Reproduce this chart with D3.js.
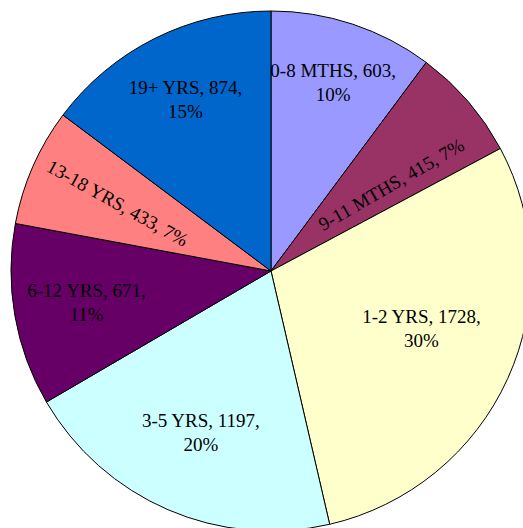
<!DOCTYPE html>
<html>
<head>
<meta charset="utf-8">
<script src="https://cdn.jsdelivr.net/npm/d3@7"></script>
<style>
  body { margin: 0; background: #fff; }
  svg { display: block; }
</style>
</head>
<body>
<div id="chart"></div>
<script>
// chart data
var categories = ["0-8 MTHS", "9-11 MTHS", "1-2 YRS", "3-5 YRS", "6-12 YRS", "13-18 YRS", "19+ YRS"];
var values     = [603, 415, 1728, 1197, 671, 433, 874];
var pctLabels  = ["10%", "7%", "30%", "20%", "11%", "7%", "15%"];   // as printed on the chart
var colors     = ["#9999ff", "#993366", "#ffffcc", "#ccffff", "#660066", "#ff8080", "#0066cc"];

// label layout (fraction of radius, rotation, angle nudge)
var labelRadius = [0.76, 0.57, 0.62, 0.68, 0.72, 0.645, 0.735];
var labelRotate = [0, -30, 0, 0, 0, 29, 0];
var labelAngleNudge = [0, 0.09, -0.06, 0, 0, 0, 0];

var FONT = "'Liberation Serif', 'Times New Roman', Times, 'DejaVu Serif', serif";

var W = 523, H = 528;
var cx = 271, cy = 271, R = 260;

var svg = d3.select("#chart").append("svg")
    .attr("width", W)
    .attr("height", H);

var g = svg.append("g")
    .attr("transform", "translate(" + cx + "," + cy + ")");

var data = categories.map(function(c, i) {
    return { cat: c, value: values[i], pct: pctLabels[i], color: colors[i], i: i };
});

var pie = d3.pie()
    .value(function(d) { return d.value; })
    .sort(null);

var arc = d3.arc().innerRadius(0).outerRadius(R);

var arcs = pie(data);

g.selectAll("path.slice")
    .data(arcs)
    .enter().append("path")
    .attr("class", "slice")
    .attr("d", arc)
    .style("fill", function(d) { return d.data.color; })
    .style("stroke", "#000")
    .style("stroke-width", 1);

var labels = g.selectAll("g.lbl")
    .data(arcs)
    .enter().append("g")
    .attr("class", "lbl")
    .attr("transform", function(d) {
        var i = d.data.i;
        var a = (d.startAngle + d.endAngle) / 2 + labelAngleNudge[i];
        var r = R * labelRadius[i];
        var x = r * Math.sin(a), y = -r * Math.cos(a);
        return "translate(" + x + "," + y + ") rotate(" + labelRotate[i] + ")";
    });

function addText(sel, y, s) {
    sel.append("text")
        .attr("text-anchor", "middle")
        .attr("y", y)
        .style("font-family", FONT)
        .style("font-size", "19px")
        .style("fill", "#000")
        .text(s);
}

labels.each(function(d) {
    var sel = d3.select(this);
    var i = d.data.i;
    if (labelRotate[i] !== 0) {
        addText(sel, 6, d.data.cat + ", " + d.data.value + ", " + d.data.pct);
    } else {
        addText(sel, -6, d.data.cat + ", " + d.data.value + ",");
        addText(sel, 18, d.data.pct);
    }
});
</script>
</body>
</html>
